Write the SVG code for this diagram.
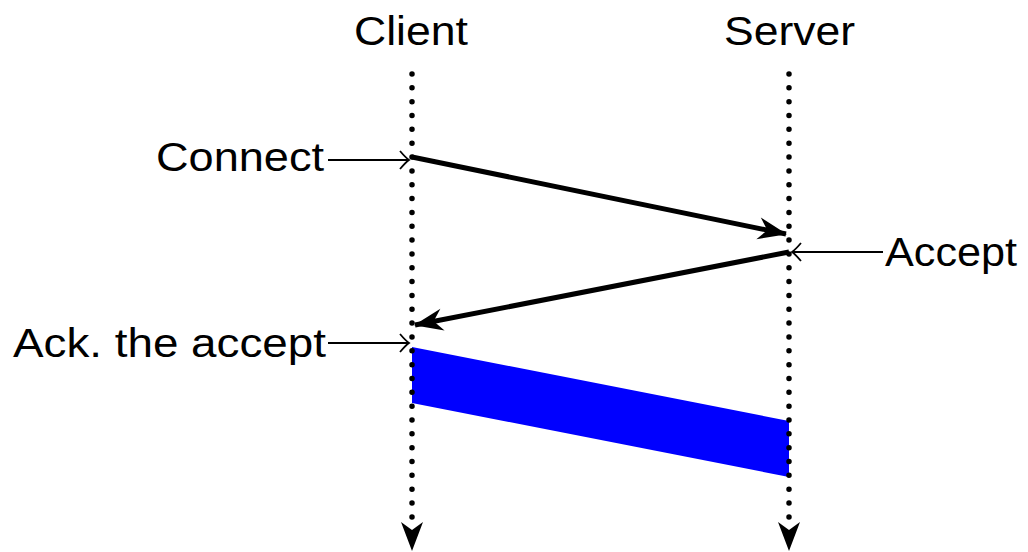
<svg xmlns="http://www.w3.org/2000/svg" width="1028" height="552" viewBox="0 0 1028 552">
  <style>
    .lbl { font-family: "Liberation Sans", Arial, sans-serif; font-size: 40px; fill: #000; }
    .life { stroke: #000; stroke-width: 5.5; stroke-linecap: round; stroke-dasharray: 0 13.84; fill: none; }
    .thick { stroke: #000; stroke-width: 5; fill: none; marker-end: url(#bigHead); }
    .thin { stroke: #000; stroke-width: 2; fill: none; marker-end: url(#thinHead); }
    .lifeHead { fill: #000; }
  </style>
  <defs>
    <marker id="bigHead" markerUnits="userSpaceOnUse" orient="auto" viewBox="-30 -14 32 28" refX="0" refY="0" markerWidth="32" markerHeight="28">
      <path d="M1,0 L-28,-11 L-19,0 L-28,11 Z" fill="#000"/>
    </marker>
    <marker id="thinHead" markerUnits="userSpaceOnUse" orient="auto" viewBox="-12 -11 14 22" refX="0" refY="0" markerWidth="14" markerHeight="22">
      <path d="M-9,-9 Q-3,-2 0,0 Q-3,2 -9,9" fill="none" stroke="#000" stroke-width="1.8"/>
    </marker>
  </defs>

  <g id="data-segment">
    <polygon points="412,347 789,421 789,477 412,403" fill="#0000ff"/>
  </g>

  <g id="client">
    <text class="lbl" x="354" y="45" textLength="114" lengthAdjust="spacingAndGlyphs">Client</text>
    <line class="life" x1="412" y1="74" x2="412" y2="518"/>
    <path class="lifeHead" d="M412,551 L401,522 L412,530 L423,522 Z"/>
  </g>

  <g id="server">
    <text class="lbl" x="724" y="45" textLength="131" lengthAdjust="spacingAndGlyphs">Server</text>
    <line class="life" x1="789" y1="74" x2="789" y2="518"/>
    <path class="lifeHead" d="M789,551 L778,522 L789,530 L800,522 Z"/>
  </g>

  <g id="label-connect">
    <text class="lbl" x="156" y="171" textLength="168" lengthAdjust="spacingAndGlyphs">Connect</text>
  </g>
  <g id="label-accept">
    <text class="lbl" x="885" y="266" textLength="132" lengthAdjust="spacingAndGlyphs">Accept</text>
  </g>
  <g id="label-ack">
    <text class="lbl" x="13" y="357" textLength="313" lengthAdjust="spacingAndGlyphs">Ack. the accept</text>
  </g>

  <g id="connectors">
    <line class="thick" x1="412" y1="157" x2="786" y2="234"/>
    <line class="thick" x1="789" y1="252" x2="415" y2="325"/>
    <line class="thin" x1="328" y1="160" x2="409" y2="160"/>
    <line class="thin" x1="883" y1="252" x2="792" y2="252"/>
    <line class="thin" x1="328" y1="343" x2="409" y2="343"/>
  </g>
</svg>
